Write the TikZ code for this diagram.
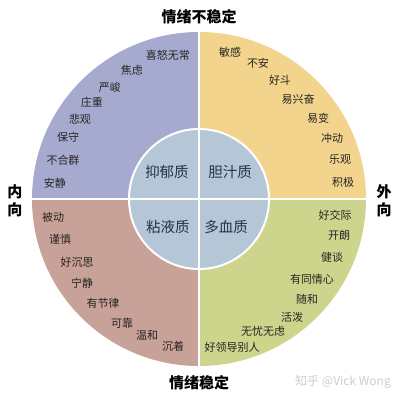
\documentclass[tikz,border=0pt]{standalone}
\usepackage{fontspec}
\setmainfont{Noto Sans CJK SC}
\definecolor{melanlilac}{RGB}{167,170,207}
\definecolor{cholyellow}{RGB}{242,212,140}
\definecolor{phlegrose}{RGB}{200,161,152}
\definecolor{sangolive}{RGB}{205,212,140}
\definecolor{coreblue}{RGB}{181,198,215}
\definecolor{wordgray}{RGB}{40,36,36}
\definecolor{tempnavy}{RGB}{40,50,75}
\usetikzlibrary{positioning}

\begin{document}
\begin{tikzpicture}[x=1pt,y=-1pt,
    trait/.style={font=\fontsize{11}{12}\selectfont, text=wordgray, inner sep=0pt},
    temper/.style={font=\fontsize{14.5}{15}\selectfont, text=tempnavy, inner sep=0pt},
    axislabel/.style={font=\fontsize{15}{18}\selectfont\bfseries, inner sep=0pt, align=center}]
  \useasboundingbox (0,0) rectangle (400,400);
  \coordinate (o) at (199,199);
  % four quadrants of the outer disc
  \begin{scope}
    \clip (o) circle[radius=167];
    \fill[melanlilac] (o) rectangle (0,0);
    \fill[cholyellow] (o) rectangle (400,0);
    \fill[phlegrose] (o) rectangle (0,400);
    \fill[sangolive] (o) rectangle (400,400);
  \end{scope}
  \fill[coreblue, draw=white, line width=2pt] (o) circle[radius=70];
  \draw[white, line width=2.5pt] (32,199) -- (366,199) (199,32) -- (199,366);
  % axes
  \node[axislabel] (top) at (199,17) {情绪不稳定};
  \node[axislabel] (bottom) at (199,383) {情绪稳定};
  \node[axislabel] (left) at (15,201) {内\\向};
  \node[axislabel] (right) at (384,201) {外\\向};
  % temperaments
  \node[temper] (mel) at (167,172) {抑郁质};
  \node[temper] (chol) at (230,172) {胆汁质};
  \node[temper] (phleg) at (168,227) {粘液质};
  \node[temper] (sang) at (226,227) {多血质};
  % traits
  \foreach \txt/\px/\py [count=\i] in {喜怒无常/168/55, 焦虑/132/70, 严峻/110/87, 庄重/92/102,
      悲观/80/119, 保守/68/137, 不合群/63/160, 安静/55/183}
    \node[trait] (mel-\i) at (\px,\py) {\txt};
  \foreach \txt/\px/\py [count=\i] in {敏感/230/52, 不安/258/63, 好斗/280/80, 易兴奋/298/99,
      易变/318/118, 冲动/332/138, 乐观/340/159, 积极/343/182}
    \node[trait] (chol-\i) at (\px,\py) {\txt};
  \foreach \txt/\px/\py [count=\i] in {被动/53/217, 谨慎/60/239, 好沉思/77/262, 宁静/82/283,
      有节律/103/303, 可靠/122/323, 温和/147/335, 沉着/173/346}
    \node[trait] (phleg-\i) at (\px,\py) {\txt};
  \foreach \txt/\px/\py [count=\i] in {好交际/335/215, 开朗/339/235, 健谈/332/257, 有同情心/312/279,
      随和/307/299, 活泼/292/317, 无忧无虑/263/331, 好领导别人/232/347}
    \node[trait] (sang-\i) at (\px,\py) {\txt};
  \node[font=\fontsize{12}{13}\selectfont, text=black!20, inner sep=0pt] (mark) at (343,382) {知乎 @Vick Wong};
\end{tikzpicture}
\end{document}
